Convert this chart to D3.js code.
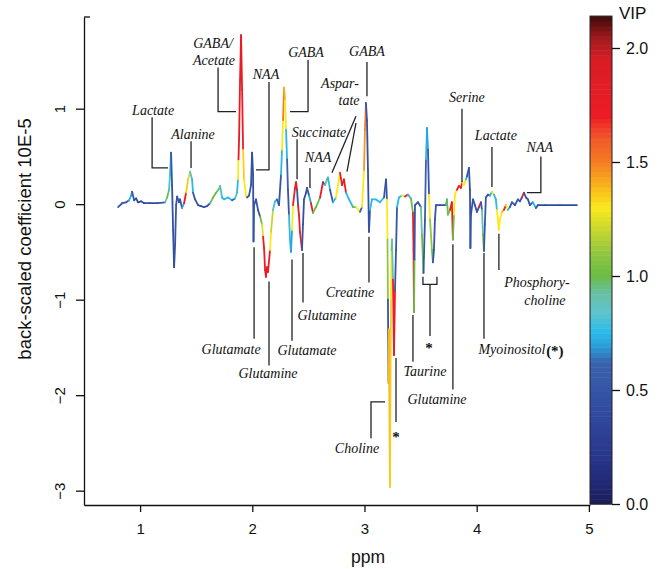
<!DOCTYPE html>
<html>
<head>
<meta charset="utf-8">
<script src="https://d3js.org/d3.v7.min.js"></script>
<style>
  body { margin: 0; background: #fff; }
  svg { display: block; }
</style>
</head>
<body>
<svg id="chart" width="663" height="569"></svg>
<script>
// loading profile (ppm, back-scaled coefficient) and VIP of each point
var ppm = [0.804,0.840,0.875,0.902,0.920,0.929,0.947,0.964,0.982,1.009,1.036,1.089,1.160,1.223,1.241,1.258,1.267,1.276,1.285,1.294,
  1.303,1.312,1.321,1.330,1.347,1.356,1.374,1.392,1.410,1.428,1.445,1.463,1.472,1.490,1.517,1.543,1.570,1.597,1.624,1.650,
  1.677,1.704,1.713,1.731,1.748,1.784,1.820,1.846,1.864,1.873,1.877,1.882,1.891,1.900,1.909,1.918,1.926,1.944,1.953,1.971,
  1.989,1.998,2.007,2.011,2.016,2.033,2.051,2.069,2.087,2.096,2.105,2.114,2.122,2.131,2.140,2.158,2.167,2.185,2.203,2.220,
  2.238,2.256,2.265,2.274,2.283,2.292,2.301,2.310,2.318,2.327,2.336,2.345,2.354,2.363,2.381,2.390,2.399,2.408,2.416,2.425,
  2.443,2.452,2.461,2.479,2.488,2.506,2.523,2.541,2.568,2.604,2.630,2.648,2.666,2.675,2.693,2.719,2.746,2.764,2.782,2.800,
  2.817,2.835,2.862,2.898,2.924,2.960,2.978,2.996,3.004,3.013,3.022,3.031,3.040,3.049,3.067,3.102,3.138,3.174,3.192,3.200,
  3.205,3.209,3.214,3.218,3.227,3.236,3.241,3.245,3.254,3.263,3.272,3.281,3.290,3.307,3.334,3.361,3.388,3.414,3.432,3.437,
  3.441,3.446,3.450,3.477,3.503,3.512,3.526,3.539,3.548,3.557,3.566,3.575,3.584,3.601,3.610,3.619,3.628,3.637,3.673,3.708,
  3.726,3.735,3.744,3.762,3.779,3.788,3.797,3.806,3.824,3.842,3.860,3.869,3.886,3.904,3.913,3.931,3.940,3.944,3.949,3.967,
  3.984,4.002,4.020,4.038,4.047,4.056,4.065,4.073,4.082,4.100,4.118,4.136,4.154,4.171,4.180,4.198,4.207,4.225,4.243,4.261,
  4.278,4.296,4.314,4.341,4.367,4.385,4.403,4.421,4.439,4.457,4.474,4.501,4.528,4.546,4.608,4.742,4.893];

var coef = [-0.03,0.01,0.02,0.04,0.09,0.13,0.04,0.06,0.02,0.03,0.01,0.01,0.01,0.02,0.07,0.15,0.31,0.54,0.20,-0.27,
  -0.66,-0.42,-0.01,0.08,0.02,0.05,-0.04,0.01,0.12,0.26,0.34,0.26,0.12,0.05,-0.01,-0.02,-0.03,-0.02,0.01,0.07,
  0.12,0.16,0.19,0.07,0.05,0.07,0.04,0.06,0.12,0.26,0.47,0.68,1.30,1.77,1.20,0.57,0.26,0.09,0.07,0.09,
  0.20,0.54,0.31,-0.39,-0.01,0.05,-0.06,-0.13,-0.21,-0.34,-0.46,-0.69,-0.76,-0.66,-0.71,-0.48,-0.29,-0.06,0.03,0.05,
  -0.01,0.31,0.57,0.88,1.22,1.09,0.78,0.47,0.15,-0.11,-0.37,-0.50,-0.27,-0.01,0.17,0.23,0.15,-0.01,-0.11,-0.29,
  -0.48,-0.21,0.05,0.12,0.17,0.09,0.01,-0.09,-0.03,0.07,0.23,0.20,0.26,0.28,0.15,0.02,0.07,0.20,0.33,0.20,
  0.26,0.12,0.05,-0.03,-0.03,-0.08,-0.03,0.36,0.78,1.06,0.88,0.36,-0.29,-0.06,0.05,0.05,0.02,0.07,0.26,0.05,
  -0.37,-1.00,-1.87,-1.31,-2.96,-1.00,-0.48,-0.37,-0.79,-1.58,-0.90,-0.48,-0.03,0.07,0.09,0.08,0.10,0.06,-0.09,-0.48,
  -1.13,-0.58,-0.01,0.02,-0.03,-0.32,-0.72,-0.16,0.47,0.80,0.57,0.10,-0.16,-0.48,-0.61,-0.48,-0.16,-0.01,-0.01,-0.01,
  -0.01,0.05,-0.11,-0.06,0.02,-0.37,-0.11,0.10,0.15,0.19,0.17,0.23,0.20,0.26,0.29,0.38,0.15,-0.46,-0.11,0.05,
  -0.01,-0.08,-0.03,0.02,-0.06,-0.32,-0.49,-0.21,0.07,0.10,0.09,0.13,0.10,0.05,-0.06,-0.27,-0.16,-0.08,-0.06,-0.01,
  -0.06,-0.03,0.02,-0.01,0.05,0.03,0.07,0.12,0.07,0.05,-0.01,0.02,-0.04,-0.01,-0.01,-0.01,-0.01];

var vip = [0.5,0.5,0.5,0.5,0.75,0.7,0.5,0.5,0.4,0.4,0.4,0.4,0.4,0.5,0.9,1.0,0.8,0.75,0.5,0.45,
  0.45,0.45,0.5,0.5,0.5,0.5,0.5,0.7,1.7,1.35,1.35,0.8,0.75,0.5,0.5,0.45,0.45,0.5,0.5,0.95,
  1.0,1.0,1.05,0.8,0.75,0.75,0.75,0.6,0.8,0.75,1.3,1.7,1.75,1.75,1.75,1.7,1.35,1.3,1.3,0.5,
  0.5,0.45,0.45,0.45,0.5,0.5,0.5,0.45,1.0,1.25,1.7,1.7,1.75,1.7,1.7,1.7,1.3,1.2,0.8,0.75,
  0.6,0.5,0.75,1.3,1.5,1.4,1.3,0.75,0.6,0.5,0.75,0.75,0.7,1.3,1.7,1.7,1.7,0.5,1.7,1.7,
  1.7,0.5,0.45,0.45,0.5,0.5,0.7,1.7,1.0,1.0,1.7,0.5,0.9,1.0,0.75,0.5,0.75,1.3,1.3,1.7,
  1.7,1.7,0.75,0.75,1.0,1.3,0.6,1.3,1.45,1.5,0.5,0.45,0.45,0.5,0.75,0.75,0.75,0.75,0.5,0.5,
  1.3,1.1,0.5,1.35,1.4,1.35,1.3,1.0,0.9,1.7,1.7,0.5,0.5,0.75,0.75,1.3,1.7,0.75,1.0,1.7,
  1.7,1.0,0.5,0.5,0.5,0.9,1.0,0.5,0.6,0.75,0.7,0.5,1.3,1.1,1.0,0.5,0.5,0.5,0.45,0.45,
  0.5,0.7,1.0,1.0,1.7,1.7,1.0,1.3,1.3,1.7,1.7,1.7,1.3,1.3,0.75,0.5,0.5,0.45,0.5,0.5,
  0.5,0.5,0.5,1.7,0.5,0.9,1.0,0.5,0.5,0.5,0.5,0.75,1.3,0.75,0.75,1.3,1.3,1.3,1.4,1.7,
  1.3,0.75,0.5,0.5,0.5,0.5,0.5,1.7,0.5,0.5,0.5,0.5,0.75,0.5,0.4,0.4,0.4];

var xTicks = [1, 2, 3, 4, 5];
var yTicks = [-3, -2, -1, 0, 1];
var vipTicks = [0, 0.5, 1, 1.5, 2];

// colour ramp of the VIP bar
var vipStops = [0, 0.1, 0.25, 0.45, 0.62, 0.7, 0.76, 0.84, 0.93, 1.0, 1.1, 1.2, 1.3, 1.4, 1.5, 1.6, 1.7, 1.95, 2.05, 2.14];
var vipColors = ['#1b1c58','#222a78','#2a3a8f','#3350a2','#3a62ae','#2aa3dc','#2bbcea','#60c3cc','#68bfa0','#6abd45',
  '#8fc640','#c6d630','#fbe91c','#f8b21c','#f47c20','#f15a29','#ed1c24','#d91d25','#9c1a1d','#3e0b0b'];

// metabolite labels: text, ppm, coefficient, italic?
var noteLabels = [
  ['Lactate', 1.116, 0.99, 1], ['Alanine', 1.472, 0.73, 1], ['GABA/', 1.650, 1.69, 1], ['Acetate', 1.659, 1.51, 1],
  ['NAA', 2.122, 1.36, 1], ['GABA', 2.479, 1.59, 1], ['Succinate', 2.595, 0.75, 1], ['NAA', 2.586, 0.49, 1],
  ['Aspar-', 2.782, 1.27, 1], ['tate', 2.862, 1.09, 1], ['GABA', 3.022, 1.60, 1], ['Serine', 3.913, 1.12, 1],
  ['Lactate', 4.171, 0.72, 1], ['NAA', 4.563, 0.60, 1],
  ['Glutamate', 1.811, -1.52, 1], ['Glutamine', 2.140, -1.77, 1], ['Glutamate', 2.488, -1.53, 1],
  ['Glutamine', 2.666, -1.16, 1], ['Creatine', 2.871, -0.92, 1], ['Choline', 2.933, -2.55, 1],
  ['*', 3.281, -2.40, 0], ['Taurine', 3.539, -1.75, 1], ['*', 3.575, -1.46, 0], ['Glutamine', 3.646, -2.04, 1],
  ['Myoinositol', 4.314, -1.52, 1], ['(*)', 4.697, -1.50, 0], ['Phosphory-', 4.537, -0.82, 1], ['choline', 4.608, -1.00, 1]
];

// leader lines: [ppm, coefficient] vertices
var noteLeaders = [
  [[1.107,0.91],[1.107,0.38],[1.249,0.38]],
  [[1.454,0.66],[1.454,0.38]],
  [[1.695,1.43],[1.695,0.97],[1.855,0.97]],
  [[2.149,1.28],[2.149,0.36],[2.033,0.36]],
  [[2.497,1.51],[2.497,0.97],[2.336,0.97]],
  [[2.399,0.68],[2.399,0.26]],
  [[2.514,0.38],[2.514,0.17]],
  [[2.924,0.92],[2.710,0.33]],
  [[2.924,0.85],[2.844,0.34]],
  [[3.022,1.49],[3.022,1.13]],
  [[3.869,1.00],[3.869,0.23]],
  [[4.136,0.60],[4.136,0.18]],
  [[4.572,0.50],[4.572,0.12],[4.448,0.12]],
  [[2.016,-0.45],[2.016,-1.41]],
  [[2.149,-0.81],[2.149,-1.69]],
  [[2.354,-0.58],[2.354,-1.43]],
  [[2.452,-0.51],[2.452,-1.03]],
  [[3.040,-0.34],[3.040,-0.82]],
  [[3.058,-2.45],[3.058,-2.07],[3.183,-2.07]],
  [[3.281,-1.61],[3.281,-2.28]],
  [[3.432,-1.16],[3.432,-1.65]],
  [[3.521,-0.76],[3.521,-0.84],[3.646,-0.84],[3.646,-0.76]],
  [[3.584,-0.84],[3.584,-1.38]],
  [[3.788,-0.42],[3.788,-1.94]],
  [[4.065,-0.51],[4.065,-1.41]],
  [[4.198,-0.31],[4.198,-0.69]]
];

var svg = d3.select('#chart');
svg.append('rect').attr('width', 663).attr('height', 569).attr('fill', '#fff');

var x = d3.scaleLinear().domain([0.5, 5.01]).range([84, 590]);
var y = d3.scaleLinear().domain([-3.15, 1.96]).range([505, 17]);
var vipY = d3.scaleLinear().domain([0, 2]).range([504, 48]);
var vipColor = d3.scaleLinear().domain(vipStops).range(vipColors).clamp(true);

// axes
var xAxis = svg.append('g')
  .attr('transform', 'translate(0,505)')
  .call(d3.axisBottom(x).tickValues(xTicks).tickFormat(d3.format('d')).tickSize(7).tickSizeOuter(0).tickPadding(11));
var yAxis = svg.append('g')
  .attr('transform', 'translate(84,0)')
  .call(d3.axisLeft(y).tickValues(yTicks).tickFormat(d3.format('d')).tickSize(8).tickSizeOuter(0));

[xAxis, yAxis].forEach(function(g) {
  g.selectAll('path, line').attr('stroke', '#111').attr('stroke-width', 1.3);
  g.selectAll('text').attr('font-family', 'Liberation Sans, Arial, sans-serif').attr('font-size', 15).attr('fill', '#111');
});
yAxis.selectAll('.tick text')
  .attr('x', null).attr('dy', null)
  .attr('text-anchor', 'middle')
  .attr('transform', 'translate(-19,0) rotate(-90)');
// little stub at the top end of the y axis
yAxis.append('line').attr('x1', 0).attr('x2', 6).attr('y1', y(1.96)).attr('y2', y(1.96))
  .attr('stroke', '#111').attr('stroke-width', 1.3);

svg.append('text')
  .attr('x', 368).attr('y', 563)
  .attr('text-anchor', 'middle')
  .attr('font-family', 'Liberation Sans, Arial, sans-serif').attr('font-size', 17.5)
  .attr('fill', '#111')
  .text('ppm');

svg.append('text')
  .attr('transform', 'translate(31,239) rotate(-90)')
  .attr('text-anchor', 'middle')
  .attr('font-family', 'Liberation Sans, Arial, sans-serif').attr('font-size', 18.5)
  .attr('fill', '#111')
  .text('back-scaled coefficient 10E-5');

// spectrum, one segment per step coloured by VIP
var pts = ppm.map(function(p, i) { return { p: p, c: coef[i], v: vip[i] }; });
var segs = pts.slice(1).map(function(d, i) { return [pts[i], d]; });
svg.append('g').selectAll('line')
  .data(segs)
  .join('line')
  .attr('x1', function(s) { return x(s[0].p); })
  .attr('y1', function(s) { return y(s[0].c); })
  .attr('x2', function(s) { return x(s[1].p); })
  .attr('y2', function(s) { return y(s[1].c); })
  .attr('stroke', function(s) { return vipColor(s[1].v); })
  .attr('stroke-width', 1.8)
  .attr('stroke-linecap', 'round');

// annotations
var leader = d3.line().x(function(d) { return x(d[0]); }).y(function(d) { return y(d[1]); });
svg.append('g').selectAll('path')
  .data(noteLeaders)
  .join('path')
  .attr('d', leader)
  .attr('fill', 'none')
  .attr('stroke', '#222')
  .attr('stroke-width', 1.3);

svg.append('g').selectAll('text')
  .data(noteLabels)
  .join('text')
  .attr('x', function(d) { return x(d[1]); })
  .attr('y', function(d) { return y(d[2]); })
  .attr('dy', function(d) { return d[3] ? '0.35em' : '0.6em'; })
  .attr('text-anchor', 'middle')
  .attr('font-family', 'Liberation Serif, Times New Roman, serif')
  .attr('font-style', function(d) { return d[3] ? 'italic' : 'normal'; })
  .attr('font-weight', function(d) { return d[3] ? 'normal' : 'bold'; })
  .attr('font-size', function(d) { return d[3] ? 14 : 15; })
  .attr('fill', '#111')
  .text(function(d) { return d[0]; });

// VIP colour bar
var bandStep = 0.0214;
var bands = d3.range(0, 2.14 - 1e-9, bandStep);
var bar = svg.append('g');
bar.selectAll('rect')
  .data(bands)
  .join('rect')
  .attr('x', 590).attr('width', 22)
  .attr('y', function(b) { return vipY(b + bandStep); })
  .attr('height', function(b) { return vipY(b) - vipY(b + bandStep) + 0.5; })
  .attr('fill', function(b) { return vipColor(b + bandStep / 2); });
bar.append('rect')
  .attr('x', 590).attr('y', vipY(2.14)).attr('width', 22).attr('height', vipY(0) - vipY(2.14))
  .attr('fill', 'none').attr('stroke', '#222').attr('stroke-width', 1);

var barAxis = svg.append('g')
  .attr('transform', 'translate(612,0)')
  .call(d3.axisRight(vipY).tickValues(vipTicks).tickFormat(d3.format('.1f')).tickSize(8).tickSizeOuter(0).tickPadding(6));
barAxis.select('.domain').remove();
barAxis.selectAll('line').attr('stroke', '#111').attr('stroke-width', 1.3);
barAxis.selectAll('text').attr('font-family', 'Liberation Sans, Arial, sans-serif').attr('font-size', 16).attr('fill', '#111');

svg.append('text')
  .attr('x', 619).attr('y', 19)
  .attr('font-family', 'Liberation Sans, Arial, sans-serif').attr('font-size', 17)
  .attr('fill', '#111')
  .text('VIP');
</script>
</body>
</html>
